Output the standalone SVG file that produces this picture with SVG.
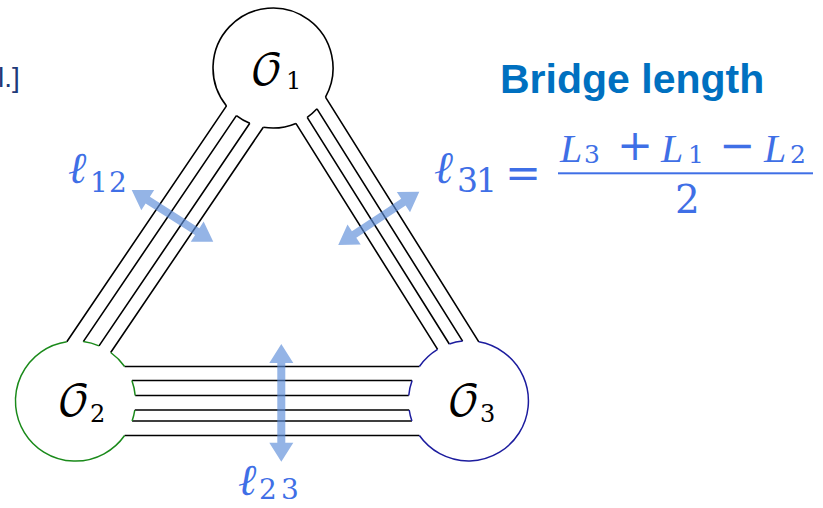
<svg xmlns="http://www.w3.org/2000/svg" width="823" height="508" viewBox="0 0 823 508">
<style>
.ln{fill:none;stroke:#000;stroke-width:1.6;stroke-linecap:butt}
.c1{fill:none;stroke:#000;stroke-width:1.6}
.c2{fill:none;stroke:#1a8a1a;stroke-width:1.5}
.c3{fill:none;stroke:#1c1c9e;stroke-width:1.5}
.arr{fill:#5a8cd8;fill-opacity:.65}
.m{font-family:"DejaVu Serif","Liberation Serif",serif;fill:#3f6fe6}
.ell{font-family:"DejaVu Serif","Liberation Serif",serif;font-style:italic;fill:#3f6fe6}
.mi{font-family:"Liberation Serif","DejaVu Serif",serif;font-style:italic;fill:#3f6fe6}
.lab{font-family:"DejaVu Math TeX Gyre","DejaVu Serif","Liberation Serif",serif;fill:#000}
.sub{font-family:"DejaVu Serif","Liberation Serif",serif;fill:#000}
</style>
<text x="-2" y="87" font-family="Liberation Sans, Arial, sans-serif" font-size="28" fill="#203a78">l.]</text>
<text x="500" y="92.7" font-family="Liberation Sans, Arial, sans-serif" font-weight="bold" font-size="41" fill="#0070c0">Bridge length</text>
<g id="connectors">
 <g id="bridge-12">
  <path class="ln" d="M226.5,105.9 L66.8,341.7 M236.4,115.6 L83.3,341.6 M249.8,123.3 L99,345.9 M263.3,127.2 L110.7,352.5"/>
 </g>
 <g id="bridge-31">
  <path class="ln" d="M295.9,123.4 L437.6,349.4 M307.2,117.3 L449.3,344 M317,108.8 L462.6,341.1 M325.5,97.1 L478.8,341.8"/>
 </g>
 <g id="bridge-23">
  <path class="ln" d="M124.6,366.5 H419.4 M131.9,380.5 H412.1 M135.2,395.5 H408.75 M134.8,410 H409.2 M132.1,421 H411.9 M124.6,435.5 H419.4"/>
 </g>
</g>
<g id="node-O1">
 <path class="c1" d="M325.5,97.1 A60,60 0 1 0 226.5,105.9 M236.4,115.6 A60,60 0 0 0 249.8,123.3 M263.3,127.2 A60,60 0 0 0 295.9,123.4 M307.2,117.3 A60,60 0 0 0 317,108.8"/>
 <text class="lab" x="266.5" y="85" font-size="42" text-anchor="middle">𝒪</text>
 <text class="sub" x="286" y="89.3" font-size="24">1</text>
</g>
<g id="node-O2">
 <path class="c2" d="M66.8,341.7 A60,60 0 1 0 124.6,435.5 M83.3,341.6 A60,60 0 0 1 99,345.9 M110.7,352.5 A60,60 0 0 1 124.6,366.5 M131.9,380.5 A60,60 0 0 1 135.2,395.5 M134.8,410 A60,60 0 0 1 132.1,421"/>
 <text class="lab" x="73.5" y="416" font-size="42" text-anchor="middle">𝒪</text>
 <text class="sub" x="90" y="421.7" font-size="24">2</text>
</g>
<g id="node-O3">
 <path class="c3" d="M478.8,341.8 A60,60 0 1 1 419.4,435.5 M449.3,344 A60,60 0 0 1 462.6,341.1 M419.4,366.5 A60,60 0 0 1 437.6,349.4 M412.1,380.5 A60,60 0 0 0 408.75,395.5 M409.2,410 A60,60 0 0 0 411.9,421"/>
 <text class="lab" x="463.5" y="416" font-size="42" text-anchor="middle">𝒪</text>
 <text class="sub" x="480" y="421.7" font-size="24">3</text>
</g>
<g id="length-arrows">
 <path class="arr" transform="translate(131.7,190) rotate(32.4)" d="M0,0 L19,-12 L19,-4 L77.6,-4 L77.6,-12 L96.6,0 L77.6,12 L77.6,4 L19,4 L19,12 Z"/>
 <path class="arr" transform="translate(419.3,191.7) rotate(146.7)" d="M0,0 L19,-12 L19,-4 L78,-4 L78,-12 L97,0 L78,12 L78,4 L19,4 L19,12 Z"/>
 <path class="arr" transform="translate(281.3,344) rotate(90)" d="M0,0 L19,-12 L19,-4 L98.7,-4 L98.7,-12 L117.7,0 L98.7,12 L98.7,4 L19,4 L19,12 Z"/>
</g>
<g id="label-l12">
 <text class="ell" x="68" y="183.3" font-size="44">ℓ</text>
 <text class="m" x="90 109" y="191.5" font-size="28">12</text>
</g>
<g id="label-l23">
 <text class="ell" x="238" y="495" font-size="44">ℓ</text>
 <text class="m" x="259 281" y="498.5" font-size="28">23</text>
</g>
<g id="formula">
 <text class="ell" x="434" y="183.3" font-size="45">ℓ</text>
 <text class="m" x="457 476" y="191.7" font-size="33">31</text>
 <text class="m" x="505" y="187.5" font-size="43">=</text>
 <rect x="558" y="172.3" width="255" height="2" fill="#3f6fe6"/>
 <text class="mi" x="560" y="161.7" font-size="40">L</text>
 <text class="m" x="584" y="163" font-size="25">3</text>
 <text class="m" x="617" y="160" font-size="43">+</text>
 <text class="mi" x="661" y="161.7" font-size="40">L</text>
 <text class="m" x="688" y="163" font-size="25">1</text>
 <text class="m" x="719" y="160" font-size="43">−</text>
 <text class="mi" x="764" y="161.7" font-size="40">L</text>
 <text class="m" x="790" y="163" font-size="25">2</text>
 <text class="m" x="675" y="213.3" font-size="39">2</text>
</g>
</svg>
